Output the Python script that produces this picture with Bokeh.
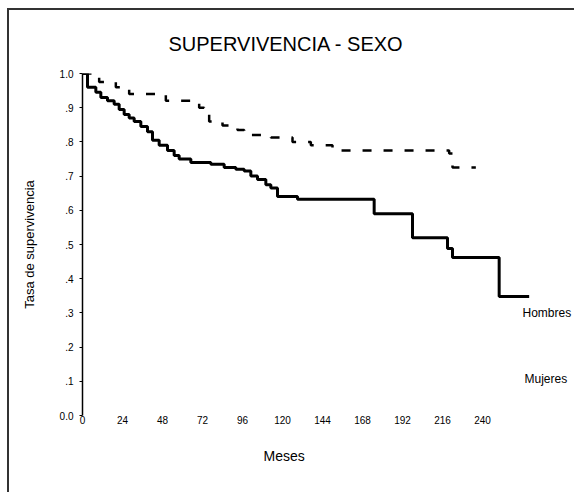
from bokeh.plotting import figure
from bokeh.models import FixedTicker, CustomJSTickFormatter, Label, Title
from bokeh.embed import file_html
from bokeh.resources import INLINE

# --- data ---
title_text = "SUPERVIVENCIA - SEXO"
x_title = "Meses"
y_title = "Tasa de supervivencia"
x_ticks = [0, 24, 48, 72, 96, 120, 144, 168, 192, 216, 240]
y_ticks = [0, 0.1, 0.2, 0.3, 0.4, 0.5, 0.6, 0.7, 0.8, 0.9, 1.0]
group_names = ["Hombres", "Mujeres"]

# solid curve (lower survival)
t_solid = [0, 3, 8, 11, 15, 19, 22, 25, 28, 31, 35, 39, 42, 46, 51, 55, 58, 65, 77,
           85, 92, 97, 101, 105, 110, 113, 117, 129, 175, 198, 219, 222, 250, 268]
s_solid = [1.0, 0.96, 0.945, 0.93, 0.92, 0.91, 0.895, 0.88, 0.87, 0.86, 0.845, 0.83,
           0.805, 0.79, 0.775, 0.76, 0.75, 0.74, 0.735, 0.725, 0.72, 0.715, 0.70, 0.69,
           0.675, 0.665, 0.64, 0.632, 0.59, 0.52, 0.488, 0.462, 0.348, 0.348]

# dashed curve (higher survival)
t_dash = [0, 10, 20, 28, 50, 70, 73, 76, 84, 93, 97, 113, 126, 137, 150, 220, 222, 236]
s_dash = [1.0, 0.975, 0.96, 0.94, 0.92, 0.90, 0.88, 0.86, 0.848, 0.835, 0.82, 0.813,
          0.80, 0.79, 0.775, 0.766, 0.725, 0.725]

FONT = "Liberation Sans"
W, H = 567, 484
FRAME_LEFT, FRAME_BOTTOM = 82, 415  # absolute page pixels
p = figure(width=W, height=H, output_backend="svg", toolbar_location=None,
           x_range=(0, 295.2), y_range=(0, 1.0),
           min_border_left=73, min_border_top=63, min_border_bottom=79, min_border_right=2,
           margin=(8, 0, 0, 7),
           styles={"border-left": "2px solid #333333", "border-top": "2px solid #333333"})
p.outline_line_color = None
p.grid.grid_line_color = None
p.background_fill_color = "white"
p.border_fill_color = "white"

# title
p.title.text = title_text
p.title.align = "left"
p.title.offset = 86
p.title.text_font = FONT
p.title.text_font_size = "20px"
p.title.text_font_style = "normal"
p.title.text_color = "black"
p.title.standoff = 28
p.title.padding = dict(left=0, right=0, top=0, bottom=5)

p.step(t_solid, s_solid, mode="after", line_color="black", line_width=3)
p.step(t_dash, s_dash, mode="after", line_color="black", line_width=2.5, line_dash="9 12")

# axes
p.xaxis.ticker = FixedTicker(ticks=x_ticks)
p.xaxis.axis_line_color = None
p.xaxis.major_tick_line_color = None
p.xaxis.minor_tick_line_color = None
p.xaxis.major_tick_out = 0
p.xaxis.major_label_text_font = FONT
p.xaxis.major_label_text_font_size = "10px"
p.xaxis.major_label_text_color = "black"
p.xaxis.major_label_standoff = 0

p.add_layout(Title(text=x_title, align="left", offset=181, text_font=FONT,
                   text_font_size="14px", text_font_style="normal", text_color="black",
                   padding=dict(left=0, right=0, top=14, bottom=0)), "below")

p.yaxis.ticker = FixedTicker(ticks=y_ticks)
p.yaxis.formatter = CustomJSTickFormatter(code="""
if (tick < 0.001) return "0.0";
if (tick > 0.999) return "1.0";
return "." + Math.round(tick*10);
""")
p.yaxis.axis_line_color = "black"
p.yaxis.axis_line_width = 1.5
p.yaxis.major_tick_in = 0
p.yaxis.major_tick_out = 3
p.yaxis.major_tick_line_color = "black"
p.yaxis.minor_tick_line_color = None
p.yaxis.major_label_text_font = FONT
p.yaxis.major_label_text_font_size = "10px"
p.yaxis.major_label_text_color = "black"
p.yaxis.major_label_standoff = 6
p.yaxis.axis_label = y_title
p.yaxis.axis_label_text_font = FONT
p.yaxis.axis_label_text_font_style = "normal"
p.yaxis.axis_label_text_font_size = "13px"
p.yaxis.axis_label_text_color = "black"
p.yaxis.axis_label_standoff = 20

# group labels (screen units are relative to the frame)
def lab(text, x, y, size, align="left"):
    p.add_layout(Label(x=x - FRAME_LEFT, y=FRAME_BOTTOM - y, x_units="screen", y_units="screen",
                       text=text, text_font=FONT, text_font_size=size,
                       text_align=align, text_baseline="middle", text_color="black"))

lab(group_names[0], 522, 312, "12px")
lab(group_names[1], 524, 378, "12px")

open("out.html", "w").write(file_html(p, INLINE))
